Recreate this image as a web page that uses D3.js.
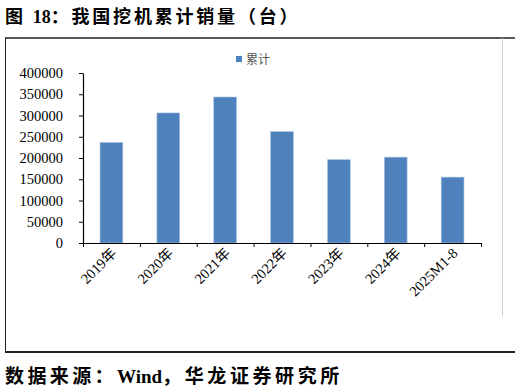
<!DOCTYPE html>
<html>
<head>
<meta charset="utf-8">
<script src="https://cdn.jsdelivr.net/npm/d3@7"></script>
<style>
  body { margin: 0; background: #fff; }
  svg { display: block; }
</style>
</head>
<body>
<div id="chart"></div>
<script>
// excavator cumulative sales chart

const categories = ["2019年", "2020年", "2021年", "2022年", "2023年", "2024年", "2025M1-8"];
const values = [236500, 306000, 343500, 262000, 196000, 202000, 155000];
const yTicks = [0, 50000, 100000, 150000, 200000, 250000, 300000, 350000, 400000];
const seriesName = "累计";

// text pieces: [string, letter-spacing]
const titleParts = [["图 ", 2.6], ["18", 0], ["：我国挖机累计销量（台）", 2.8]];
const sourceParts = [["数据来源：", 3.4], ["Wind", 0], ["，华龙证券研究所", 3.6]];

const W = 521, H = 392;
const barColor = "#4f81bd";
const serif = "'Liberation Serif', 'Times New Roman', 'Noto Sans CJK SC', serif";

const svg = d3.select("#chart")
    .append("svg")
    .attr("width", W)
    .attr("height", H);

function spacedText(parts, px, yPos, size) {
    const t = svg.append("text")
        .attr("x", px)
        .attr("y", yPos)
        .style("font-family", serif)
        .style("font-size", size + "px")
        .style("font-weight", "bold");
    parts.forEach(p => {
        t.append("tspan").style("letter-spacing", p[1] + "px").text(p[0]);
    });
}

// title
spacedText(titleParts, 5, 23, 18);

// frame (no right edge)
svg.append("line").attr("x1", 5).attr("x2", 515).attr("y1", 38).attr("y2", 38)
    .attr("stroke", "#222").attr("stroke-width", 1.5);
svg.append("line").attr("x1", 5.5).attr("x2", 5.5).attr("y1", 38).attr("y2", 352)
    .attr("stroke", "#222").attr("stroke-width", 1);
svg.append("line").attr("x1", 5).attr("x2", 515).attr("y1", 352).attr("y2", 352)
    .attr("stroke", "#222").attr("stroke-width", 2);
// light chart-area border on the right
svg.append("line").attr("x1", 502.5).attr("x2", 502.5).attr("y1", 38).attr("y2", 316)
    .attr("stroke", "#cfcfcf").attr("stroke-width", 1);

// scales
const x = d3.scaleBand()
    .domain(categories)
    .range([83, 481])
    .paddingInner(0.6)
    .paddingOuter(0.3);

const y = d3.scaleLinear()
    .domain([0, 400000])
    .range([243, 73]);

// bars
svg.append("g")
    .selectAll("rect")
    .data(values)
    .join("rect")
    .attr("x", (d, i) => x(categories[i]))
    .attr("y", d => y(d))
    .attr("width", x.bandwidth())
    .attr("height", d => y(0) - y(d))
    .attr("fill", barColor)
    .attr("stroke", "#a7c0de")
    .attr("stroke-width", 0.6);

// y axis
const yAxis = svg.append("g")
    .attr("transform", "translate(83,0)")
    .call(d3.axisLeft(y).tickValues(yTicks).tickSize(4).tickSizeOuter(0).tickFormat(d3.format("d")));
yAxis.select(".domain").attr("stroke", "#000").attr("stroke-width", 1.2);
yAxis.selectAll(".tick line").attr("stroke", "#000");
yAxis.selectAll("text")
    .attr("x", -20)
    .style("font-family", serif)
    .style("font-size", "14.5px")
    .attr("fill", "#000");

// x axis: ticks at category boundaries
const xb = d3.scaleLinear().domain([0, categories.length]).range(x.range());
const xAxis = svg.append("g")
    .attr("transform", "translate(0,243)")
    .call(d3.axisBottom(xb).tickValues(d3.range(categories.length + 1)).tickSize(4).tickSizeOuter(0).tickFormat(""));
xAxis.select(".domain").attr("stroke", "#000").attr("stroke-width", 1.2);
xAxis.selectAll(".tick line").attr("stroke", "#000");

// rotated category labels
svg.append("g")
    .selectAll("text")
    .data(categories)
    .join("text")
    .attr("transform", d => `translate(${x(d) + x.bandwidth() / 2 + 6},${254}) rotate(-45)`)
    .attr("text-anchor", "end")
    .style("font-family", serif)
    .style("font-size", "14.5px")
    .text(d => d);

// legend
svg.append("rect")
    .attr("x", 236).attr("y", 56)
    .attr("width", 6).attr("height", 6)
    .attr("fill", barColor);
svg.append("text")
    .attr("x", 246).attr("y", 64)
    .style("font-family", "'Noto Sans CJK SC', sans-serif")
    .style("font-size", "12px")
    .attr("fill", "#555")
    .text(seriesName);

// source
spacedText(sourceParts, 5, 383, 19);
</script>
</body>
</html>
